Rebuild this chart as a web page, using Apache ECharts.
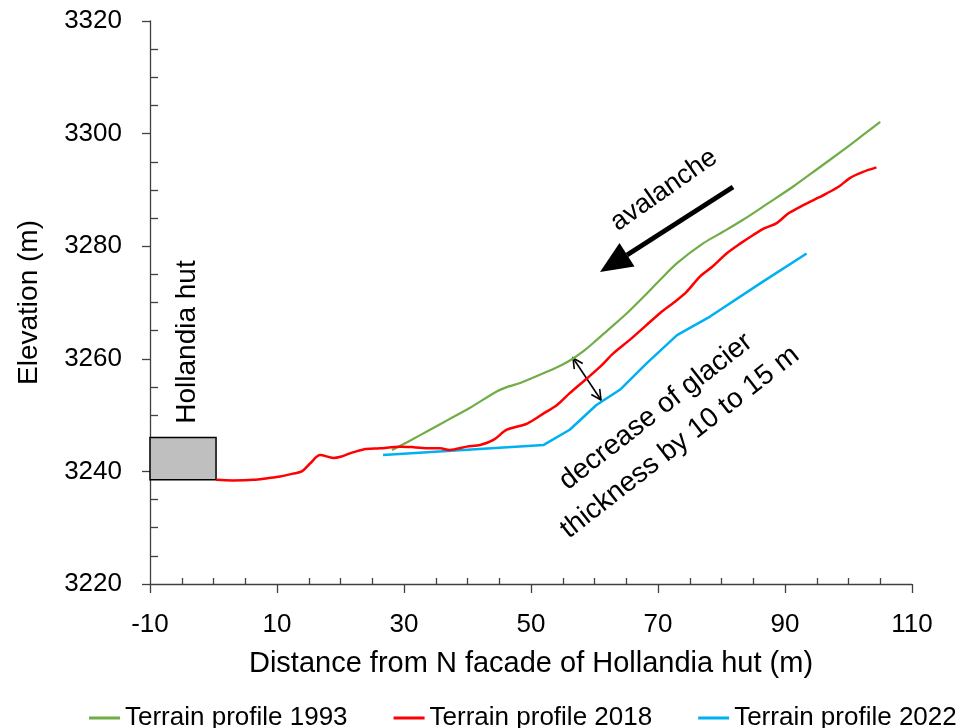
<!DOCTYPE html>
<html>
<head>
<meta charset="utf-8">
<script src="https://cdn.jsdelivr.net/npm/echarts@6/dist/echarts.min.js"></script>
<style>
  html, body { margin: 0; padding: 0; background: #fff; }
  #chart { width: 974px; height: 728px; }
</style>
</head>
<body>
<div id="chart"></div>
<script>
// Terrain profile 1993
var x1993 = [28.1, 31, 34.1, 37, 40.4, 44.6, 46.5, 48.3, 52.5, 55, 56.7, 58.2, 59.8, 62.1, 65.1, 67.8, 70.3, 73, 77.1, 80.3, 83.4, 87.3, 91.3, 95.2, 99.2, 102, 105];
var y1993 = [3243.8, 3245.5, 3247.4, 3249.2, 3251.3, 3254.2, 3255.1, 3255.7, 3257.7, 3259.0, 3260.1, 3261.3, 3262.8, 3265.1, 3268.1, 3271.1, 3274.0, 3277.0, 3280.5, 3282.6, 3284.7, 3287.6, 3290.6, 3293.8, 3297.1, 3299.5, 3302.1];

// Terrain profile 2018
var x2018 = [0.4, 3, 6.3, 8.5, 10.5, 12.5, 13.9, 15.2, 16.8, 18.9, 20, 21.5, 23.6, 26.2, 29.4, 31.5, 34.1, 35.7, 37.2, 39.9, 42, 44.1, 46.2, 49.4, 52, 54.1, 56.1, 58.8, 60.9, 63, 65.6, 68, 70.3, 72.5, 74.5, 76.6, 78.5, 80.8, 83, 85, 86.8, 88.7, 90.5, 92.4, 94.5, 96.6, 98.5, 100.2, 102.3, 104.4];
var y2018 = [3238.5, 3238.4, 3238.5, 3238.8, 3239.1, 3239.6, 3240.0, 3241.4, 3242.9, 3242.4, 3242.6, 3243.2, 3243.9, 3244.1, 3244.4, 3244.3, 3244.1, 3244.1, 3243.8, 3244.4, 3244.7, 3245.6, 3247.4, 3248.5, 3250.3, 3251.8, 3253.9, 3256.5, 3258.6, 3261.0, 3263.4, 3265.8, 3268.1, 3270.0, 3271.9, 3274.6, 3276.3, 3278.7, 3280.5, 3282.0, 3283.2, 3284.1, 3285.8, 3287.0, 3288.2, 3289.4, 3290.6, 3292.1, 3293.2, 3294.0];

// Terrain profile 2022
var x2022 = [26.7, 52, 56.1, 60.3, 64, 68.2, 73, 78.2, 86.1, 93.4];
var y2022 = [3242.9, 3244.7, 3247.4, 3251.8, 3254.5, 3259.2, 3264.2, 3267.5, 3273.4, 3278.7];

// Hollandia hut footprint (x from, x to, y from, y to)
var hutX = [-10, 0.4];
var hutY = [3238.5, 3246];

var seriesNames = ["Terrain profile 1993", "Terrain profile 2018", "Terrain profile 2022"];
var seriesColors = ["#70ad47", "#ff0000", "#00b0f0"];

function pairs(xs, ys) {
  return xs.map(function (x, i) { return [x, ys[i]]; });
}

var font = "Liberation Sans";
var axisColor = "#404040";

var chart = echarts.init(document.getElementById("chart"));
var option = {
  animation: false,
  grid: { left: 150, right: 62, top: 21, bottom: 144 },
  legend: {
    left: 84,
    top: 700,
    itemGap: 46,
    itemWidth: 31,
    itemHeight: 3,
    icon: "rect",
    textStyle: { fontFamily: font, fontSize: 26, color: "#000" },
    data: seriesNames
  },
  xAxis: {
    type: "value",
    min: -10,
    max: 110,
    interval: 20,
    name: "Distance from N facade of Hollandia hut (m)",
    nameLocation: "middle",
    nameGap: 65,
    nameTextStyle: { fontFamily: font, fontSize: 29, color: "#000", verticalAlign: "top" },
    axisLine: { onZero: false, lineStyle: { color: axisColor, width: 1.3 } },
    axisTick: { length: 9, lineStyle: { color: axisColor, width: 1.3 } },
    minorTick: { show: true, splitNumber: 4, length: -6, lineStyle: { color: axisColor, width: 1.3 } },
    axisLabel: { fontFamily: font, fontSize: 26, color: "#000", margin: 28 },
    splitLine: { show: false }
  },
  yAxis: {
    type: "value",
    min: 3220,
    max: 3320,
    interval: 20,
    name: "Elevation (m)",
    nameLocation: "middle",
    nameGap: 107,
    nameTextStyle: { fontFamily: font, fontSize: 28, color: "#000" },
    axisLine: { show: true, onZero: false, lineStyle: { color: axisColor, width: 1.3 } },
    axisTick: { show: true, length: 8, lineStyle: { color: axisColor, width: 1.3 } },
    minorTick: { show: true, splitNumber: 4, length: -8, lineStyle: { color: axisColor, width: 1.3 } },
    axisLabel: { fontFamily: font, fontSize: 26, color: "#000", margin: 28, formatter: function (v) { return String(v); } },
    splitLine: { show: false }
  },
  series: [
    {
      name: seriesNames[0],
      type: "line",
      symbol: "none",
      smooth: 0.3,
      color: seriesColors[0],
      lineStyle: { width: 2.2 },
      data: pairs(x1993, y1993),
      z: 3
    },
    {
      name: seriesNames[1],
      type: "line",
      symbol: "none",
      smooth: 0.3,
      color: seriesColors[1],
      lineStyle: { width: 2.5 },
      data: pairs(x2018, y2018),
      markArea: {
        silent: true,
        itemStyle: { color: "#bfbfbf", borderColor: "#000", borderWidth: 1.5 },
        data: [[{ coord: [hutX[0], hutY[0]] }, { coord: [hutX[1], hutY[1]] }]]
      },
      z: 4
    },
    {
      name: seriesNames[2],
      type: "line",
      symbol: "none",
      color: seriesColors[2],
      lineStyle: { width: 2.5 },
      data: pairs(x2022, y2022),
      z: 2
    }
  ],
  graphic: [
    {
      type: "text", x: 187, y: 342, rotation: Math.PI / 2,
      style: { text: "Hollandia hut", fontFamily: font, fontSize: 28, fill: "#000", align: "center", verticalAlign: "middle" }
    },
    {
      type: "text", x: 664, y: 190, rotation: 35 * Math.PI / 180,
      style: { text: "avalanche", fontFamily: font, fontSize: 27, fill: "#000", align: "center", verticalAlign: "middle" }
    },
    {
      type: "text", x: 668, y: 427, rotation: 38 * Math.PI / 180,
      style: { text: "decrease of glacier\nthickness by 10 to 15 m", fontFamily: font, fontSize: 28, lineHeight: 39, fill: "#000", align: "center", verticalAlign: "middle" }
    },
    // avalanche arrow
    {
      type: "line",
      shape: { x1: 733, y1: 187, x2: 627, y2: 255 },
      style: { stroke: "#000", lineWidth: 5 }
    },
    {
      type: "polygon",
      shape: { points: [[600, 272], [634.5, 266.6], [619.5, 243]] },
      style: { fill: "#000" }
    },
    // double arrow
    {
      type: "line",
      shape: { x1: 573, y1: 358, x2: 601, y2: 400 },
      style: { stroke: "#000", lineWidth: 1.6 }
    },
    {
      type: "polyline",
      shape: { points: [[574.3, 369.1], [573, 358], [582.7, 363.5]] },
      style: { stroke: "#000", lineWidth: 1.6, fill: null }
    },
    {
      type: "polyline",
      shape: { points: [[591.3, 394.5], [601, 400], [599.7, 388.9]] },
      style: { stroke: "#000", lineWidth: 1.6, fill: null }
    }
  ]
};
chart.setOption(option);
</script>
</body>
</html>
